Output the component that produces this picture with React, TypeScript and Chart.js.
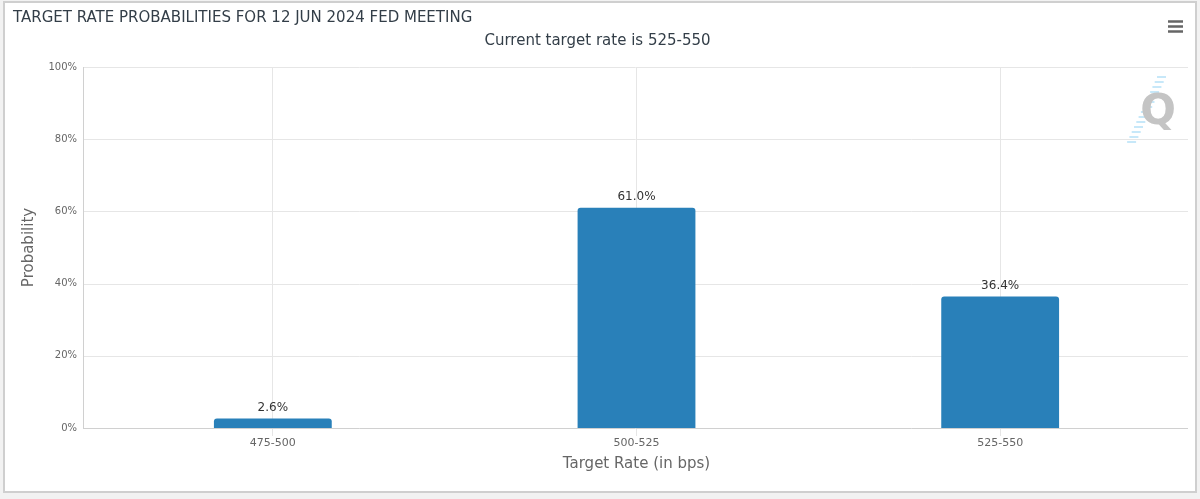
import React, { useEffect, useRef } from "react";
import { Chart, registerables } from "chart.js";

Chart.register(...registerables);

const chartTitle = "TARGET RATE PROBABILITIES FOR 12 JUN 2024 FED MEETING";
const chartSubtitle = "Current target rate is 525-550";
const categories = ["475-500", "500-525", "525-550"];
const probabilities = [2.6, 61.0, 36.4];
const yTicks = [0, 20, 40, 60, 80, 100];
const xAxisTitle = "Target Rate (in bps)";
const yAxisTitle = "Probability";

const FONT = "'DejaVu Sans', 'Noto Sans', sans-serif";

const decorPlugin = {
  id: "decor",
  beforeDatasetsDraw(chart: any) {
    const { ctx, chartArea, scales } = chart;
    const y = scales.y;
    const x0 = chartArea.left - 8;
    const x1 = chartArea.right + 6;
    ctx.save();
    ctx.lineWidth = 1;
    ctx.strokeStyle = "#e6e6e6";
    y.ticks.forEach((t: any) => {
      const py = Math.round(y.getPixelForValue(t.value)) + 0.5;
      if (t.value === 0) return;
      ctx.beginPath();
      ctx.moveTo(x0, py);
      ctx.lineTo(x1, py);
      ctx.stroke();
    });
    ctx.strokeStyle = "#d0d0d0";
    const base = Math.round(y.getPixelForValue(0)) + 0.5;
    ctx.beginPath();
    ctx.moveTo(x0, base);
    ctx.lineTo(x1, base);
    ctx.stroke();
    ctx.beginPath();
    ctx.moveTo(x0 + 0.5, Math.round(chartArea.top));
    ctx.lineTo(x0 + 0.5, base);
    ctx.stroke();
    ctx.restore();
  },
  afterDatasetsDraw(chart: any) {
    const { ctx } = chart;
    const meta = chart.getDatasetMeta(0);
    ctx.save();
    ctx.font = `12px ${FONT}`;
    ctx.fillStyle = "#333333";
    ctx.textAlign = "center";
    ctx.textBaseline = "bottom";
    meta.data.forEach((bar: any, i: number) => {
      ctx.fillText(`${probabilities[i].toFixed(1)}%`, bar.x, bar.y - 5);
    });
    // menu icon
    const w = chart.width;
    ctx.strokeStyle = "#666666";
    ctx.lineWidth = 2.5;
    [21.5, 26.5, 31.5].forEach((yy) => {
      ctx.beginPath();
      ctx.moveTo(w - 32, yy);
      ctx.lineTo(w - 17, yy);
      ctx.stroke();
    });
    // watermark
    const ca = chart.chartArea;
    ctx.strokeStyle = "rgba(120,200,240,0.55)";
    ctx.lineWidth = 1.5;
    for (let k = 0; k < 14; k++) {
      const cy = ca.top + 10 + k * 5;
      const cx = ca.right - 16 - k * 2.3;
      ctx.beginPath();
      ctx.moveTo(cx - 9, cy);
      ctx.lineTo(cx, cy);
      ctx.stroke();
    }
    ctx.font = `bold 42px ${FONT}`;
    ctx.fillStyle = "#c4c4c4";
    ctx.textAlign = "center";
    ctx.textBaseline = "middle";
    ctx.fillText("Q", ca.right - 24, ca.top + 46);
    ctx.restore();
  },
};

export default function App() {
  const ref = useRef<HTMLCanvasElement | null>(null);
  useEffect(() => {
    if (!ref.current) return;
    const chart = new Chart(ref.current, {
      type: "bar",
      data: {
        labels: categories,
        datasets: [
          {
            data: probabilities,
            backgroundColor: "#2980b9",
            borderRadius: { topLeft: 3, topRight: 3, bottomLeft: 0, bottomRight: 0 },
            borderSkipped: "bottom",
            barPercentage: 0.324,
            categoryPercentage: 1,
          },
        ],
      },
      options: {
        responsive: false,
        animation: false,
        events: [],
        layout: { padding: { left: 13, right: 18, top: 0, bottom: 11 } },
        plugins: {
          legend: { display: false },
          tooltip: { enabled: false },
          title: {
            display: true,
            text: chartTitle,
            align: "start",
            color: "#333e48",
            font: { family: FONT, size: 15, weight: "normal", lineHeight: 1.2 },
            padding: { top: 9, bottom: 5 },
          },
          subtitle: {
            display: true,
            text: chartSubtitle,
            align: "center",
            color: "#333e48",
            font: { family: FONT, size: 15, weight: "normal", lineHeight: 1.2 },
            padding: { top: 0, bottom: 17 },
          },
        },
        scales: {
          x: {
            offset: true,
            grid: {
              offset: false,
              color: "#e6e6e6",
              drawTicks: true,
              tickLength: 8,
              tickColor: "#e6e6e6",
            },
            border: { display: false },
            ticks: { color: "#666666", font: { family: FONT, size: 11 }, padding: 1, maxRotation: 0 },
            title: {
              display: true,
              text: xAxisTitle,
              color: "#666666",
              font: { family: FONT, size: 15, lineHeight: 1.2 },
              padding: { top: 0, bottom: 15 },
            },
            afterFit(scale: any) {
              scale.height = 60;
            },
          },
          y: {
            min: 0,
            max: 100,
            afterBuildTicks(scale: any) {
              scale.ticks = yTicks.map((v) => ({ value: v }));
            },
            grid: { display: false, drawTicks: false },
            border: { display: false },
            ticks: {
              color: "#666666",
              font: { family: FONT, size: 10 },
              padding: 14,
              callback: (v: any) => `${v}%`,
            },
            title: {
              display: true,
              text: yAxisTitle,
              color: "#666666",
              font: { family: FONT, size: 15, lineHeight: 1.2 },
              padding: { top: 7, bottom: 0 },
            },
            afterFit(scale: any) {
              scale.width = 78;
            },
          },
        },
      },
      plugins: [decorPlugin],
    } as any);
    return () => chart.destroy();
  }, []);

  return (
    <div style={{ position: "absolute", left: 0, top: 0, width: 1200, height: 499, background: "#f2f2f2", overflow: "hidden" }}>
      <div
        style={{
          position: "absolute",
          left: 3,
          top: 1,
          width: 1194,
          height: 492,
          boxSizing: "border-box",
          border: "2px solid #cfcfcf",
          background: "#ffffff",
        }}
      />
      <canvas ref={ref} width={1200} height={499} style={{ position: "absolute", left: 0, top: 0, width: 1200, height: 499 }} />
    </div>
  );
}
